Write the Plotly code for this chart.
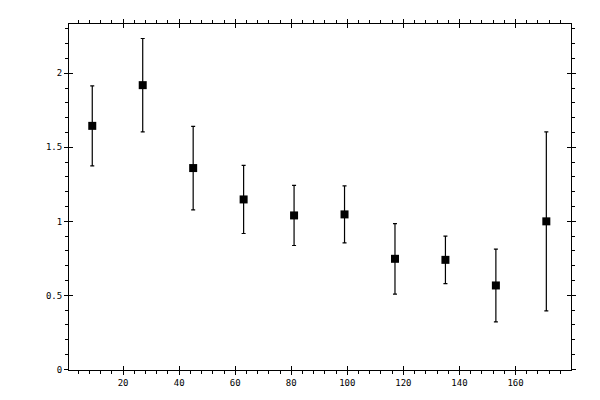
import plotly.graph_objects as go

# Data
x_vals = [9, 27, 45, 63, 81, 99, 117, 135, 153, 171]
y_vals = [1.645, 1.92, 1.36, 1.148, 1.04, 1.047, 0.747, 0.74, 0.567, 1.0]
y_err = [0.27, 0.315, 0.282, 0.23, 0.203, 0.193, 0.238, 0.16, 0.246, 0.604]

x_range = [0.7, 179.8]
y_range = [-0.004, 2.333]
x_ticks = [20, 40, 60, 80, 100, 120, 140, 160]
y_ticks = [0, 0.5, 1, 1.5, 2]
y_ticktext = ["0", "0.5", "1", "1.5", "2"]

font = dict(family="DejaVu Sans Mono", size=9, color="black")

fig = go.Figure()
fig.add_trace(go.Scatter(
    x=x_vals, y=y_vals, mode="markers",
    marker=dict(symbol="square", size=8, color="black"),
    error_y=dict(type="data", array=y_err, color="black", thickness=1.2, width=2),
    showlegend=False,
))
# empty trace so the overlay axes (inside half of the major ticks) get drawn
fig.add_trace(go.Scatter(x=[], y=[], xaxis="x2", yaxis="y2", showlegend=False))

axis_common = dict(showgrid=False, zeroline=False, showline=True, linecolor="black",
                   linewidth=1, mirror="ticks", tickcolor="black", tickwidth=1)

# page body adds an 8px offset, so margins are shifted to compensate
fig.update_layout(
    width=600, height=400,
    margin=dict(l=61, r=37, t=11, b=38),
    paper_bgcolor="white", plot_bgcolor="white",
    font=font,
    xaxis=dict(range=x_range, tickvals=x_ticks, ticks="outside", ticklen=4,
               minor=dict(dtick=4, tick0=0, ticks="outside", ticklen=3, tickcolor="black"),
               tickfont=font, **axis_common),
    yaxis=dict(range=y_range, tickvals=y_ticks, ticktext=y_ticktext, ticks="outside", ticklen=4,
               minor=dict(dtick=0.1, tick0=0, ticks="outside", ticklen=3, tickcolor="black"),
               tickfont=font, **axis_common),
    xaxis2=dict(range=x_range, overlaying="x", anchor="y2", tickvals=x_ticks, ticks="inside",
                ticklen=4, showticklabels=False, **axis_common),
    yaxis2=dict(range=y_range, overlaying="y", anchor="x2", tickvals=y_ticks, ticks="inside",
                ticklen=4, showticklabels=False, **axis_common),
)

fig.write_html("out.html")
